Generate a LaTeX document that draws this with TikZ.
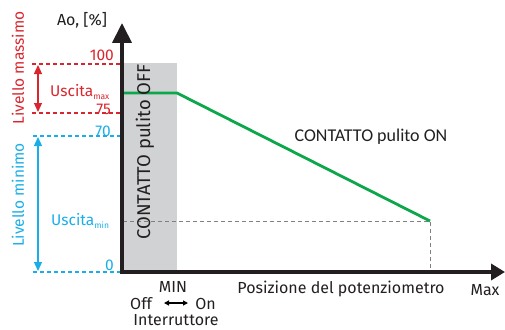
\documentclass[tikz,border=0pt]{standalone}
\usepackage{fontspec}
\setmainfont{Fira Sans}
\newfontfamily\calfont{Carlito}
\usetikzlibrary{arrows.meta}
\definecolor{cred}{HTML}{D9262E}
\definecolor{cblue}{HTML}{1AAEE8}
\definecolor{cgreen}{HTML}{0CA64B}
\definecolor{cgray}{HTML}{D1D2D4}
\definecolor{ctext}{HTML}{231F20}
\begin{document}
\begin{tikzpicture}[x=1pt,y=-1pt,
  axis/.style={line width=4pt,ctext},
  reddash/.style={cred,dash pattern=on 4pt off 3pt,line width=1.1pt},
  bluedash/.style={cblue,dash pattern=on 4pt off 3pt,line width=1.1pt},
  graydash/.style={gray,dash pattern=on 4pt off 3pt,line width=1pt},
  lbl/.style={font=\fontsize{16}{18}\selectfont,text=ctext,inner sep=0pt},
  redlbl/.style={font=\fontsize{15.5}{18}\selectfont,text=cred,inner sep=0pt},
  bluelbl/.style={font=\fontsize{15.5}{18}\selectfont,text=cblue,inner sep=0pt},
  dbl/.style={line width=1.3pt,{Triangle[length=9pt,width=8pt]}-{Triangle[length=9pt,width=8pt]}}]
\useasboundingbox (0,0) rectangle (505,329);
% gray band
\fill[cgray] (123,63) rectangle (177,272);
% coordinates
\coordinate (O) at (122,272);
\coordinate (ytop) at (122,23);
\coordinate (xend) at (505,272);
\coordinate (g1) at (123,93);
\coordinate (g2) at (177,93);
\coordinate (g3) at (430,221);
\coordinate (m1) at (123,221);
\coordinate (gx) at (430,272);
% level dashes
\coordinate (r100a) at (32,64); \coordinate (r100b) at (120,64);
\coordinate (r75a) at (32,113); \coordinate (r75b) at (120,113);
\coordinate (b70a) at (33,136); \coordinate (b70b) at (120,136);
\coordinate (b0a) at (33,272); \coordinate (b0b) at (120,272);
\draw[reddash] (r100a) -- (r100b);
\draw[reddash] (r75a) -- (r75b);
\draw[bluedash] (b70a) -- (b70b);
\draw[bluedash] (b0a) -- (b0b);
% grey dashed guides
\draw[graydash] (m1) -- (g3) -- (gx);
% green curve
\draw[cgreen,line width=2.8pt] (g1) -- (g2) -- (g3);
% axes
\draw[axis,-{Triangle[length=20pt,width=19pt]}] ([yshift=2pt]O) -- (ytop);
\draw[axis,-{Triangle[length=14pt,width=16pt]}] ([xshift=-2pt]O) -- (xend);
% level arrows
\coordinate (ra) at (38,65); \coordinate (rb) at (38,112);
\coordinate (ba) at (38,137); \coordinate (bb) at (38,271);
\draw[dbl,cred] (ra) -- (rb);
\draw[dbl,cblue] (ba) -- (bb);
% tick labels
\node[redlbl,anchor=base east] (t100) at (114,60) {100};
\node[redlbl,anchor=base east] (t75) at (111,114) {75};
\node[bluelbl,anchor=base east] (t70) at (111,136) {70};
\node[bluelbl,anchor=base east] (t0) at (114,270) {0};
\node[redlbl,anchor=base west] (umax) at (50,96) {Uscita\raisebox{-3pt}{\fontsize{8.5}{9}\selectfont max}};
\node[bluelbl,anchor=base west] (umin) at (51,225) {Uscita\raisebox{-3pt}{\fontsize{8.5}{9}\selectfont min}};
\node[redlbl,rotate=90] (lmax) at (18,68) {Livello massimo};
\node[bluelbl,rotate=90] (lmin) at (18,195) {Livello minimo};
% axis labels
\node[lbl,anchor=base] (ao) at (82,26) {Ao, [\%]};
\node[lbl,rotate=90,font=\fontsize{18.5}{20}\selectfont] (off) at (145,152) {CONTATTO pulito OFF};
\node[lbl,font=\calfont\fontsize{18}{20}\selectfont,anchor=base] (on) at (371,141) {CONTATTO pulito ON};
\node[lbl,anchor=base] (min) at (173,292) {MIN};
\node[lbl,anchor=base west] (offtxt) at (130,309) {Off};
\node[lbl,anchor=base east] (ontxt) at (216,309) {On};
\coordinate (oa) at (164,303); \coordinate (ob) at (188,303);
\draw[line width=1.1pt,{Triangle[length=5pt,width=5pt]}-{Triangle[length=5pt,width=5pt]}] (oa) -- (ob);
\node[lbl,anchor=base] (intr) at (176,325) {Interruttore};
\node[lbl,anchor=base] (pos) at (341,293) {Posizione del potenziometro};
\node[lbl,anchor=base] (max) at (485,295) {Max};
\end{tikzpicture}
\end{document}
